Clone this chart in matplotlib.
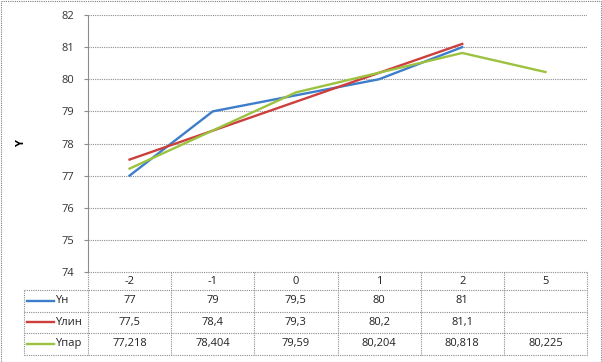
import matplotlib
matplotlib.use("Agg")
import matplotlib.pyplot as plt
from matplotlib.transforms import blended_transform_factory
from matplotlib.patches import Rectangle

categories = ['-2', '-1', '0', '1', '2', '5']
series_names = ['Yн', 'Yлин', 'Yпар']
y_n = [77, 79, 79.5, 80, 81, None]
y_lin = [77.5, 78.4, 79.3, 80.2, 81.1, None]
y_par = [77.218, 78.404, 79.59, 80.204, 80.818, 80.225]
y_ticks = [74, 75, 76, 77, 78, 79, 80, 81, 82]

colors = ['#3D7DCA', '#CC3F3C', '#9CC23F']
grid_c = '#8C8C8C'
FONT = 'Open Sans'
plt.rcParams['font.family'] = [FONT, 'DejaVu Sans']

W, H = 602, 362
fig = plt.figure(figsize=(W / 100, H / 100), dpi=100)

L, R, T, B = 88, 587, 15, 272
ax = fig.add_axes([L / W, (H - B) / H, (R - L) / W, (B - T) / H])
x = list(range(len(categories)))
for vals, c in zip([y_n, y_lin, y_par], colors):
    xs = [xi for xi, v in zip(x, vals) if v is not None]
    vs = [v for v in vals if v is not None]
    ax.plot(xs, vs, color=c, lw=1.7, solid_joinstyle='round', zorder=3)

ax.set_xlim(-0.5, len(categories) - 0.5)
ax.set_ylim(74, 82)
ax.set_yticks(y_ticks)
ax.set_yticklabels([str(t) for t in y_ticks], fontsize=8, color='#333333')
ax.set_xticks([])
ax.tick_params(axis='y', length=3, color=grid_c, pad=7)
for s in ['top', 'right', 'bottom']:
    ax.spines[s].set_visible(False)
ax.spines['left'].set_color(grid_c)
ax.spines['left'].set_linestyle((0, (1, 1)))
ax.spines['left'].set_linewidth(0.8)
ax.grid(axis='y', color=grid_c, linestyle=(0, (1, 1)), lw=0.8)
ax.set_axisbelow(True)
ax.set_ylabel('Y', fontsize=8, fontweight='bold', rotation=90)
ax.yaxis.set_label_coords((27 - L) / (R - L), 0.5)

# overlay in pixel coordinates for table
ov = fig.add_axes([0, 0, 1, 1], zorder=-1)
ov.set_xlim(0, W)
ov.set_ylim(H, 0)
ov.axis('off')
tr = blended_transform_factory(ax.transData, ov.transData)

dot = dict(color=grid_c, lw=0.8, linestyle=(0, (1, 1)))
hdr_top, hdr_bot = 272, 290
row_h = 21.5
rows_y = [hdr_bot + i * row_h for i in range(len(series_names) + 1)]
lab_left = 24

# header row
ov.plot([L, R], [hdr_top, hdr_top], **dot)
n = len(categories)
for i in range(n + 1):
    ov.plot([i - 0.5, i - 0.5], [hdr_top, rows_y[-1]], transform=tr, **dot)
for i, c in enumerate(categories):
    ov.text(i, (hdr_top + hdr_bot) / 2, c, transform=tr, ha='center', va='center',
            fontsize=8, color='#222222')
# row lines
for yv in rows_y:
    ov.plot([lab_left, R], [yv, yv], **dot)
ov.plot([lab_left, lab_left], [rows_y[0], rows_y[-1]], **dot)

for r, (name, vals, c) in enumerate(zip(series_names, [y_n, y_lin, y_par], colors)):
    yc = (rows_y[r] + rows_y[r + 1]) / 2
    ov.plot([lab_left + 3, lab_left + 30], [yc, yc], color=c, lw=1.7)
    ov.text(lab_left + 31, yc, name, ha='left', va='center', fontsize=8, color='#222222')
    for i, v in enumerate(vals):
        if v is None:
            continue
        s = ('%g' % v).replace('.', ',')
        ov.text(i, yc, s, transform=tr, ha='center', va='center', fontsize=8, color='#222222')

fig.patches.append(Rectangle((0.5 / W, 0.5 / H), 1 - 1.5 / W, 1 - 1.5 / H, transform=fig.transFigure,
                             fill=False, edgecolor='#7F7F7F', lw=0.8, linestyle=(0, (1, 1))))

fig.savefig('out.png', dpi=100)
